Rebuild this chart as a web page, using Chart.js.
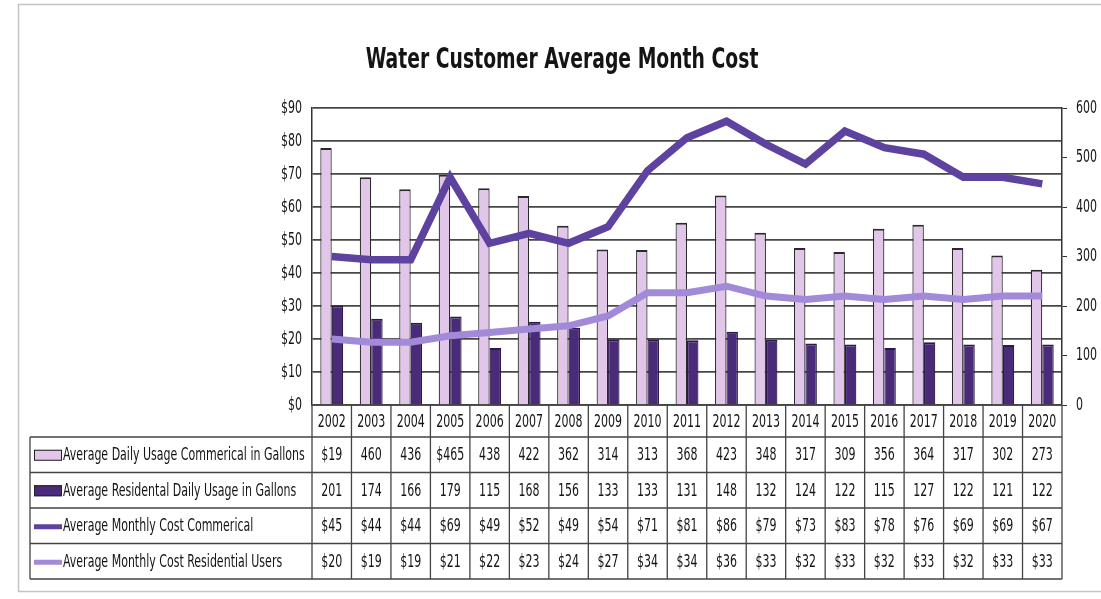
<!DOCTYPE html>
<html>
<head>
<meta charset="utf-8">
<title>Water Customer Average Month Cost</title>
<script src="https://cdn.jsdelivr.net/npm/chart.js@4.4.1/dist/chart.umd.min.js"></script>
<style>
    html, body { margin: 0; padding: 0; background: #ffffff; }
    #wrap { position: relative; width: 1101px; height: 599px; }
</style>
</head>
<body>
<div id="wrap"><canvas id="waterChart"></canvas></div>
<script>
// Chart data
const years = ['2002', '2003', '2004', '2005', '2006', '2007', '2008', '2009', '2010', '2011',
    '2012', '2013', '2014', '2015', '2016', '2017', '2018', '2019', '2020'];

const commercialUsage = [519, 460, 436, 465, 438, 422, 362, 314, 313, 368, 423, 348, 317, 309, 356, 364, 317, 302, 273];
const residentialUsage = [201, 174, 166, 179, 115, 168, 156, 133, 133, 131, 148, 132, 124, 122, 115, 127, 122, 121, 122];
const commercialCost = [45, 44, 44, 69, 49, 52, 49, 54, 71, 81, 86, 79, 73, 83, 78, 76, 69, 69, 67];
const residentialCost = [20, 19, 19, 21, 22, 23, 24, 27, 34, 34, 36, 33, 32, 33, 32, 33, 32, 33, 33];

// the table prints a couple of cells with a stray "$" / misread digit
const commercialUsageText = ['$19', '460', '436', '$465', '438', '422', '362', '314', '313', '368',
    '423', '348', '317', '309', '356', '364', '317', '302', '273'];

const costTicks = [0, 10, 20, 30, 40, 50, 60, 70, 80, 90];
const gallonTicks = [0, 100, 200, 300, 400, 500, 600];

const seriesNames = [
    'Average Daily Usage Commerical in Gallons',
    'Average Residental Daily Usage in Gallons',
    'Average Monthly Cost Commerical',
    'Average Monthly Cost Residential Users'
];

const FONT = '"DejaVu Sans Condensed", "Liberation Sans Narrow", sans-serif';
const LIGHT_BAR = '#e2c6ea';
const DARK_BAR = '#4a2b7a';
const COST_COM = '#5d42a0';
const COST_RES = '#a38ad8';
const INK = '#141414';
const SQUEEZE = 0.68;   // the original uses a tall, narrow face

// Layout of the data table under the plot
const TABLE = {
    left: 30,
    headerBottom: 437,
    rowHeight: 35.5
};

// draw text squeezed horizontally
function narrowText(ctx, text, x, y, align, sx) {
    ctx.save();
    ctx.translate(x, y);
    ctx.scale(sx || SQUEEZE, 1);
    ctx.textAlign = align;
    ctx.fillText(text, 0, 0);
    ctx.restore();
}

/**
 * Frame, title, axis labels and data table drawn around the plot
 */
const tablePlugin = {
    id: 'dataTable',
    beforeDraw(chart) {
        const ctx = chart.ctx;
        ctx.save();
        ctx.strokeStyle = '#c4c4c4';
        ctx.lineWidth = 1.5;
        ctx.strokeRect(18.5, 4.5, 1100, 587);
        ctx.restore();
    },
    afterDraw(chart) {
        const ctx = chart.ctx;
        const area = chart.chartArea;
        const x = chart.scales.x;
        const yCost = chart.scales.yCost;
        const yGal = chart.scales.yGal;
        const step = (area.right - area.left) / years.length;
        const top = area.bottom;
        const bottom = TABLE.headerBottom + TABLE.rowHeight * 4;

        ctx.save();
        ctx.textBaseline = 'middle';

        // title
        ctx.fillStyle = INK;
        ctx.font = 'bold 29px ' + FONT;
        narrowText(ctx, 'Water Customer Average Month Cost', 562, 60, 'center', 0.72);

        // axis labels
        ctx.font = '18px ' + FONT;
        costTicks.forEach(v => {
            narrowText(ctx, '$' + v, area.left - 10, yCost.getPixelForValue(v), 'right');
        });
        gallonTicks.forEach(v => {
            narrowText(ctx, String(v), area.right + 14, yGal.getPixelForValue(v), 'left');
        });

        // grid lines of the table
        ctx.strokeStyle = '#444';
        ctx.lineWidth = 1.3;
        ctx.beginPath();
        ctx.moveTo(area.left, top);
        ctx.lineTo(area.right, top);
        for (let r = 0; r <= 4; r++) {
            const y = TABLE.headerBottom + r * TABLE.rowHeight;
            ctx.moveTo(TABLE.left, y);
            ctx.lineTo(area.right, y);
        }
        for (let i = 0; i <= years.length; i++) {
            const xx = area.left + i * step;
            ctx.moveTo(xx, top);
            ctx.lineTo(xx, bottom);
        }
        ctx.moveTo(TABLE.left, TABLE.headerBottom);
        ctx.lineTo(TABLE.left, bottom);
        ctx.stroke();

        // header years
        ctx.fillStyle = INK;
        years.forEach((yr, i) => {
            narrowText(ctx, yr, x.getPixelForValue(i), (top + TABLE.headerBottom) / 2 + 1, 'center');
        });

        const rows = [
            commercialUsageText,
            residentialUsage.map(v => String(v)),
            commercialCost.map(v => '$' + v),
            residentialCost.map(v => '$' + v)
        ];

        rows.forEach((cells, r) => {
            const cy = TABLE.headerBottom + (r + 0.5) * TABLE.rowHeight + 1;
            ctx.fillStyle = INK;
            cells.forEach((txt, i) => {
                narrowText(ctx, txt, x.getPixelForValue(i), cy, 'center');
            });

            // legend key
            if (r === 0 || r === 1) {
                ctx.fillStyle = r === 0 ? LIGHT_BAR : DARK_BAR;
                ctx.fillRect(34, cy - 6, 28, 11);
                ctx.strokeStyle = '#222';
                ctx.lineWidth = 1;
                ctx.strokeRect(34.5, cy - 5.5, 27, 10);
            } else {
                ctx.strokeStyle = r === 2 ? COST_COM : COST_RES;
                ctx.lineWidth = 5;
                ctx.beginPath();
                ctx.moveTo(34, cy);
                ctx.lineTo(62, cy);
                ctx.stroke();
            }

            ctx.fillStyle = INK;
            narrowText(ctx, seriesNames[r], 63, cy, 'left');
        });

        ctx.restore();
    }
};

new Chart(document.getElementById('waterChart'), {
    type: 'bar',
    data: {
        labels: years,
        datasets: [
            {
                type: 'line',
                label: seriesNames[2],
                data: commercialCost,
                yAxisID: 'yCost',
                borderColor: COST_COM,
                borderWidth: 7.5,
                pointRadius: 0,
                tension: 0,
                order: 0
            },
            {
                type: 'line',
                label: seriesNames[3],
                data: residentialCost,
                yAxisID: 'yCost',
                borderColor: COST_RES,
                borderWidth: 7,
                pointRadius: 0,
                tension: 0,
                order: 1
            },
            {
                label: seriesNames[0],
                data: commercialUsage,
                yAxisID: 'yGal',
                backgroundColor: LIGHT_BAR,
                borderColor: '#2a2a2a',
                borderWidth: { top: 2, left: 1.2, right: 1.2, bottom: 0 },
                categoryPercentage: 0.58,
                barPercentage: 1.0,
                order: 2
            },
            {
                label: seriesNames[1],
                data: residentialUsage,
                yAxisID: 'yGal',
                backgroundColor: DARK_BAR,
                borderColor: '#2a1a45',
                borderWidth: { top: 2, left: 1.2, right: 1.2, bottom: 0 },
                categoryPercentage: 0.58,
                barPercentage: 1.0,
                order: 3
            }
        ]
    },
    options: {
        responsive: true,
        maintainAspectRatio: false,
        animation: false,
        layout: {
            padding: { top: 108, left: 0, right: 0, bottom: 0 }
        },
        plugins: {
            legend: { display: false },
            title: { display: false },
            tooltip: { enabled: false }
        },
        scales: {
            x: {
                ticks: { display: false },
                grid: { display: false },
                border: { display: false },
                afterFit: (scale) => { scale.height = 194; }
            },
            yCost: {
                position: 'left',
                min: 0,
                max: 90,
                afterBuildTicks: (scale) => { scale.ticks = costTicks.map(v => ({ value: v })); },
                ticks: { display: false },
                grid: {
                    color: '#474747',
                    lineWidth: 1.7,
                    drawTicks: false
                },
                border: { display: true, color: '#333', width: 1.5 },
                afterFit: (scale) => { scale.width = 312; }
            },
            yGal: {
                position: 'right',
                min: 0,
                max: 600,
                afterBuildTicks: (scale) => { scale.ticks = gallonTicks.map(v => ({ value: v })); },
                ticks: { display: false },
                grid: {
                    drawOnChartArea: false,
                    drawTicks: true,
                    tickLength: 5,
                    color: '#333'
                },
                border: { display: true, color: '#333', width: 1.5 },
                afterFit: (scale) => { scale.width = 39; }
            }
        }
    },
    plugins: [tablePlugin]
});
</script>
</body>
</html>
